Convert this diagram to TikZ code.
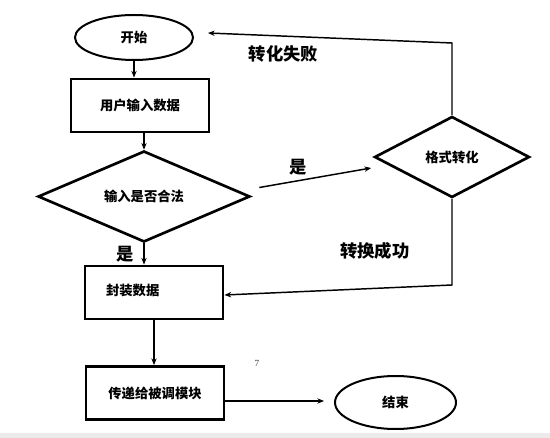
\documentclass[tikz,border=0pt]{standalone}
\usepackage{fontspec}
\setmainfont{Noto Sans CJK SC}
\newfontfamily\numfont{Liberation Serif}
\usetikzlibrary{shapes.geometric,arrows.meta}
\begin{document}
\begin{tikzpicture}[->,>={Stealth[length=5pt,width=4pt]},x=0.75pt,y=-0.75pt,
                    line width=1.1pt,font=\bfseries,
                    term node/.style={ellipse,draw,line width=1.5pt,inner sep=0pt},
                    proc node/.style={rectangle,draw,line width=2.2pt,minimum width=103.5pt,minimum height=39.75pt},
                    cond node/.style={diamond,draw,line width=2pt,aspect=2,inner sep=0pt},
                    big label/.style={font=\bfseries\fontsize{13}{15}\selectfont}]

  \useasboundingbox (0,0) rectangle (550,438);
  \fill[-,black!8] (0,433) rectangle (550,438);

  \node[term node,minimum width=88.5pt,minimum height=33.75pt] (1) at (134,37.5) {开始};
  \node[proc node] (2) at (140,105.5) {用户输入数据};
  \node[cond node,minimum width=159pt,minimum height=68.25pt] (3) at (144,196.5) {输入是否合法};
  \node[proc node,text width=72pt,align=left,inner xsep=15.75pt] (4) at (154,292.5) {\raisebox{3.4pt}{封装数据}};
  \node[cond node,minimum width=116.25pt,minimum height=60.75pt] (5) at (452,157) {格式转化};
  \node[proc node] (6) at (155,393) {传递给被调模块};
  \node[term node,minimum width=90.75pt,minimum height=39.75pt] (7) at (395.5,402.5) {结束};
  \node[font=\numfont\scriptsize,text=black!75] (8) at (257,363) {7};

  \path[every node/.style={big label}]
    (1.south) edge (1.south |- 2.north)
    (3.north |- 2.south) edge (3.north)
    (3.south) edge node[left=4pt] {是} (3.south |- 4.north)
    ([shift={(8,-9)}]3.east) edge node[pos=0.35,above] {是} ([shift={(-2,11)}]5.west)
    (4.south) edge (4.south |- 6.north)
    ([shift={(0,8)}]6.east) edge ([shift={(-10,-1.5)}]7.west);

  \draw (5.north) -- (5.north |- 0,43)
        -- node[big label,pos=0.69,below=3pt] {转化失败} ([shift={(14,-4.5)}]1.east);
  \draw (5.south) -- node[big label,pos=0.6,left=28pt] {转换成功} (5.south |- 0,285)
        -- ([shift={(0,2.5)}]4.east);
\end{tikzpicture}
\end{document}
